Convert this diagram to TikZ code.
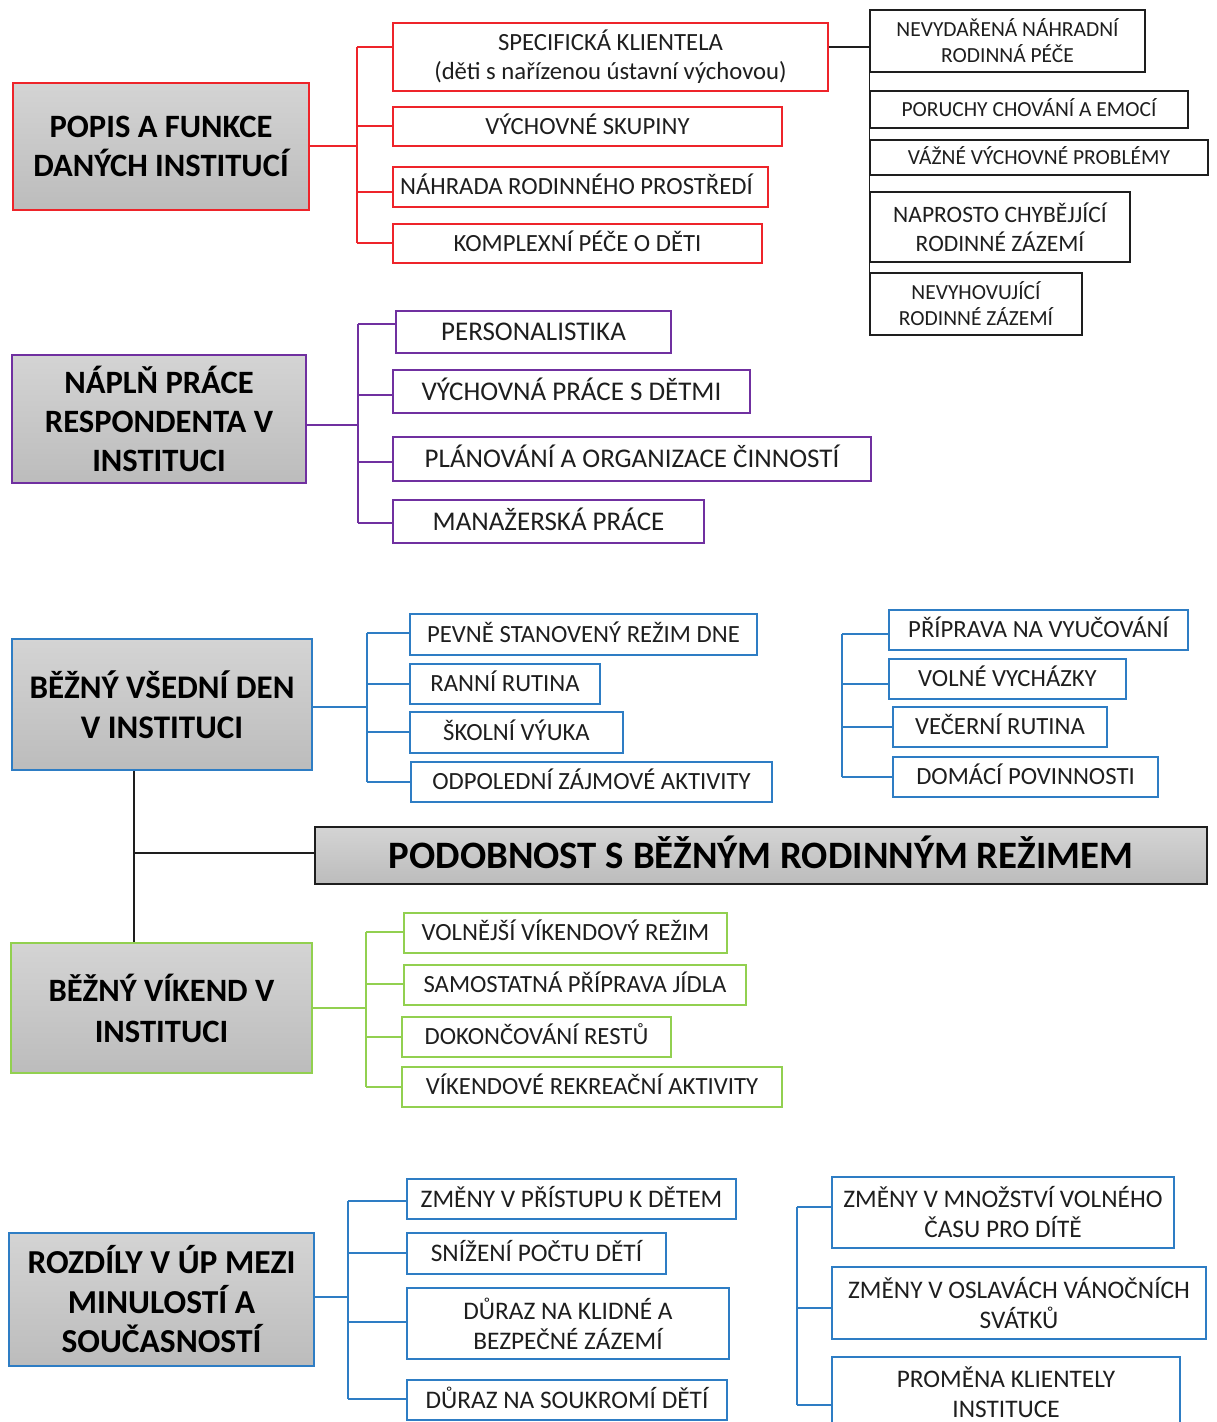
\documentclass[tikz,border=0pt]{standalone}
\usepackage{fontspec}
\setmainfont{Carlito}
\definecolor{cred}{RGB}{238,36,42}
\definecolor{cpur}{RGB}{112,48,160}
\definecolor{cblue}{RGB}{46,125,196}
\definecolor{cgreen}{RGB}{146,208,80}
\definecolor{cline}{RGB}{30,30,30}
\definecolor{ctext}{RGB}{30,30,30}
\definecolor{gtop}{RGB}{212,212,212}
\definecolor{gbot}{RGB}{188,188,188}
\newcommand{\bx}[7]{\node[#6, minimum width={#4-#2}, minimum height={#5-#3}] (#1) at ({(#2+#4)/2},{(#3+#5)/2}) {#7};}
\begin{document}
\begin{tikzpicture}[x=1pt,y=-1pt,
  box/.style={draw, line width=1.6pt, inner sep=0pt, align=center, text=ctext, fill=white},
  mainbox/.style={draw, line width=1.6pt, inner sep=0pt, align=center, text=black, top color=gtop, bottom color=gbot, font=\bfseries\fontsize{32.6}{39}\selectfont},
  fA/.style={font=\fontsize{24.7}{29}\selectfont},
  fA1/.style={fA, text height=15.9pt, text depth=0pt},
  fB/.style={font=\fontsize{21.5}{26}\selectfont},
  fB1/.style={fB, text height=13.8pt, text depth=0pt},
  fC1/.style={font=\fontsize{27}{32}\selectfont, text height=17.4pt, text depth=0pt},
  fD/.style={font=\fontsize{25.3}{30}\selectfont},
  fD1/.style={fD, text height=16.3pt, text depth=0pt},
  redb/.style={box, draw=cred},
  purb/.style={box, draw=cpur},
  blub/.style={box, draw=cblue},
  greb/.style={box, draw=cgreen},
  blkb/.style={box, draw=cline, line width=1.4pt},
  redl/.style={draw=cred, line width=1.6pt},
  purl/.style={draw=cpur, line width=1.6pt},
  blul/.style={draw=cblue, line width=1.6pt},
  grel/.style={draw=cgreen, line width=1.6pt},
  blkl/.style={draw=cline, line width=1.4pt},
]
\useasboundingbox (0,0) rectangle (1216,1422);
\fill[white] (0,0) rectangle (1216,1422);

% ---------- red section ----------
\bx{popis}{13}{83}{309}{210}{mainbox, draw=cred}{POPIS A FUNKCE\\DANÝCH INSTITUCÍ}
\bx{spec}{393}{23}{828}{91}{redb, fA}{SPECIFICKÁ KLIENTELA\\(děti s nařízenou ústavní výchovou)}
\bx{vychs}{393}{107}{782}{146}{redb, fA1}{VÝCHOVNÉ SKUPINY}
\bx{nahr}{393}{167}{768}{207}{redb, fA1}{NÁHRADA RODINNÉHO PROSTŘEDÍ\hspace*{8pt}}
\bx{kompl}{393}{224}{762}{263}{redb, fA1}{KOMPLEXNÍ PÉČE O DĚTI}
\coordinate (rj) at (357,146);
\draw[redl] (popis.east |- rj) -- (rj);
\draw[redl] (357,47) -- (357,243);
\draw[redl] (357,47) -- (spec.west |- 357,47);
\draw[redl] (357,126) -- (vychs.west |- 357,126);
\draw[redl] (357,192) -- (nahr.west |- 357,192);
\draw[redl] (357,243) -- (kompl.west |- 357,243);

% ---------- black right column ----------
\bx{nevyd}{870}{10}{1145}{72}{blkb, fB}{NEVYDAŘENÁ NÁHRADNÍ\\RODINNÁ PÉČE}
\bx{poruchy}{870}{91}{1188}{128}{blkb, fB1}{PORUCHY CHOVÁNÍ A EMOCÍ}
\bx{vazne}{870}{140}{1208}{175}{blkb, fB1}{VÁŽNÉ VÝCHOVNÉ PROBLÉMY}
\bx{naprosto}{870}{192}{1130}{262}{blkb, font=\fontsize{23.5}{29}\selectfont}{NAPROSTO CHYBĚJJÍCÍ\\RODINNÉ ZÁZEMÍ}
\bx{nevyh}{870}{273}{1082}{335}{blkb, fB}{NEVYHOVUJÍCÍ\\RODINNÉ ZÁZEMÍ}
\draw[blkl] (spec.east |- 828,47) -- (nevyd.west |- 870,47);
\draw[blkl] (nevyd.north west) -- (nevyh.south west);

% ---------- purple section ----------
\bx{naplnn}{12}{355}{306}{483}{mainbox, draw=cpur}{NÁPLŇ PRÁCE\\RESPONDENTA V\\INSTITUCI}
\bx{pers}{396}{311}{671}{353}{purb, fC1}{PERSONALISTIKA}
\bx{vychp}{393}{370}{750}{413}{purb, fC1}{VÝCHOVNÁ PRÁCE S DĚTMI}
\bx{plan}{393}{437}{871}{481}{purb, fC1}{PLÁNOVÁNÍ A ORGANIZACE ČINNOSTÍ}
\bx{manaz}{393}{500}{704}{543}{purb, fC1}{MANAŽERSKÁ PRÁCE}
\coordinate (pj) at (358,425);
\draw[purl] (naplnn.east |- pj) -- (pj);
\draw[purl] (358,324) -- (358,523);
\draw[purl] (358,324) -- (pers.west |- 358,324);
\draw[purl] (358,395) -- (vychp.west |- 358,395);
\draw[purl] (358,462) -- (plan.west |- 358,462);
\draw[purl] (358,523) -- (manaz.west |- 358,523);

% ---------- blue weekday section ----------
\bx{bezny}{12}{639}{312}{770}{mainbox, draw=cblue, font=\bfseries\fontsize{33}{40}\selectfont}{BĚŽNÝ VŠEDNÍ DEN\\V INSTITUCI}
\bx{pevne}{410}{614}{757}{655}{blub, fA1}{PEVNĚ STANOVENÝ REŽIM DNE}
\bx{ranni}{410}{664}{600}{704}{blub, fA1}{RANNÍ RUTINA}
\bx{skolni}{410}{712}{623}{753}{blub, fA1}{ŠKOLNÍ VÝUKA}
\bx{odpol}{411}{762}{772}{802}{blub, fA1}{ODPOLEDNÍ ZÁJMOVÉ AKTIVITY}
\coordinate (bj) at (367,707);
\draw[blul] (bezny.east |- bj) -- (bj);
\draw[blul] (367,633) -- (367,782);
\draw[blul] (367,633) -- (pevne.west |- 367,633);
\draw[blul] (367,684) -- (ranni.west |- 367,684);
\draw[blul] (367,732) -- (skolni.west |- 367,732);
\draw[blul] (367,782) -- (odpol.west |- 367,782);

\bx{prip}{889}{610}{1188}{650}{blub, fA1}{PŘÍPRAVA NA VYUČOVÁNÍ}
\bx{volne}{889}{659}{1126}{699}{blub, fA1}{VOLNÉ VYCHÁZKY}
\bx{vecer}{893}{707}{1107}{747}{blub, fA1}{VEČERNÍ RUTINA}
\bx{domaci}{893}{757}{1158}{797}{blub, fA1}{DOMÁCÍ POVINNOSTI}
\draw[blul] (842,634) -- (842,777);
\draw[blul] (842,634) -- (prip.west |- 842,634);
\draw[blul] (842,684) -- (volne.west |- 842,684);
\draw[blul] (842,727) -- (vecer.west |- 842,727);
\draw[blul] (842,777) -- (domaci.west |- 842,777);

% ---------- central ----------
\bx{podob}{315}{827}{1207}{884}{mainbox, draw=cline, line width=1.4pt, font=\bfseries\fontsize{38.8}{44}\selectfont, text height=25pt, text depth=0pt}{PODOBNOST S BĚŽNÝM RODINNÝM REŽIMEM}

% ---------- green weekend section ----------
\bx{vikend}{11}{943}{312}{1073}{mainbox, draw=cgreen, font=\bfseries\fontsize{32.6}{41}\selectfont}{BĚŽNÝ VÍKEND V\\INSTITUCI}
\bx{volnejsi}{404}{913}{727}{953}{greb, fA1}{VOLNĚJŠÍ VÍKENDOVÝ REŽIM}
\bx{samost}{404}{965}{746}{1005}{greb, fA1}{SAMOSTATNÁ PŘÍPRAVA JÍDLA}
\bx{dokonc}{402}{1017}{671}{1057}{greb, fA1}{DOKONČOVÁNÍ RESTŮ}
\bx{vikrek}{402}{1067}{782}{1107}{greb, fA1}{VÍKENDOVÉ REKREAČNÍ AKTIVITY}
\coordinate (gj) at (366,1008);
\draw[grel] (vikend.east |- gj) -- (gj);
\draw[grel] (366,932) -- (366,1087);
\draw[grel] (366,932) -- (volnejsi.west |- 366,932);
\draw[grel] (366,984) -- (samost.west |- 366,984);
\draw[grel] (366,1037) -- (dokonc.west |- 366,1037);
\draw[grel] (366,1087) -- (vikrek.west |- 366,1087);

% black spine
\coordinate (sj) at (134,853);
\draw[blkl] (bezny.south -| 134,0) -- (vikend.north -| 134,0);
\draw[blkl] (sj) -- (podob.west |- sj);

% ---------- blue differences section ----------
\bx{rozdily}{9}{1233}{314}{1366}{mainbox, draw=cblue, font=\bfseries\fontsize{33.5}{39.5}\selectfont}{ROZDÍLY V ÚP MEZI\\MINULOSTÍ A\\SOUČASNOSTÍ}
\bx{zprist}{407}{1179}{736}{1219}{blub, fD1}{ZMĚNY V PŘÍSTUPU K DĚTEM}
\bx{snizeni}{407}{1233}{666}{1274}{blub, fD1}{SNÍŽENÍ POČTU DĚTÍ}
\bx{duraza}{407}{1288}{729}{1359}{blub, fD}{DŮRAZ NA KLIDNÉ A\\BEZPEČNÉ ZÁZEMÍ}
\bx{durazb}{407}{1380}{727}{1420}{blub, fD1}{DŮRAZ NA SOUKROMÍ DĚTÍ}
\coordinate (dj) at (348,1297);
\draw[blul] (rozdily.east |- dj) -- (dj);
\draw[blul] (348,1201) -- (348,1399);
\draw[blul] (348,1201) -- (zprist.west |- 348,1201);
\draw[blul] (348,1253) -- (snizeni.west |- 348,1253);
\draw[blul] (348,1322) -- (duraza.west |- 348,1322);
\draw[blul] (348,1399) -- (durazb.west |- 348,1399);

\bx{zmnoz}{832}{1177}{1174}{1248}{blub, fD}{ZMĚNY V MNOŽSTVÍ VOLNÉHO\\ČASU PRO DÍTĚ}
\bx{zoslav}{832}{1267}{1206}{1339}{blub, fD}{ZMĚNY V OSLAVÁCH VÁNOČNÍCH\\SVÁTKŮ}
\bx{promena}{832}{1357}{1180}{1428}{blub, fD}{PROMĚNA KLIENTELY\\INSTITUCE}
\draw[blul] (797,1207) -- (797,1405);
\draw[blul] (797,1207) -- (zmnoz.west |- 797,1207);
\draw[blul] (797,1308) -- (zoslav.west |- 797,1308);
\draw[blul] (797,1405) -- (promena.west |- 797,1405);
\end{tikzpicture}
\end{document}
